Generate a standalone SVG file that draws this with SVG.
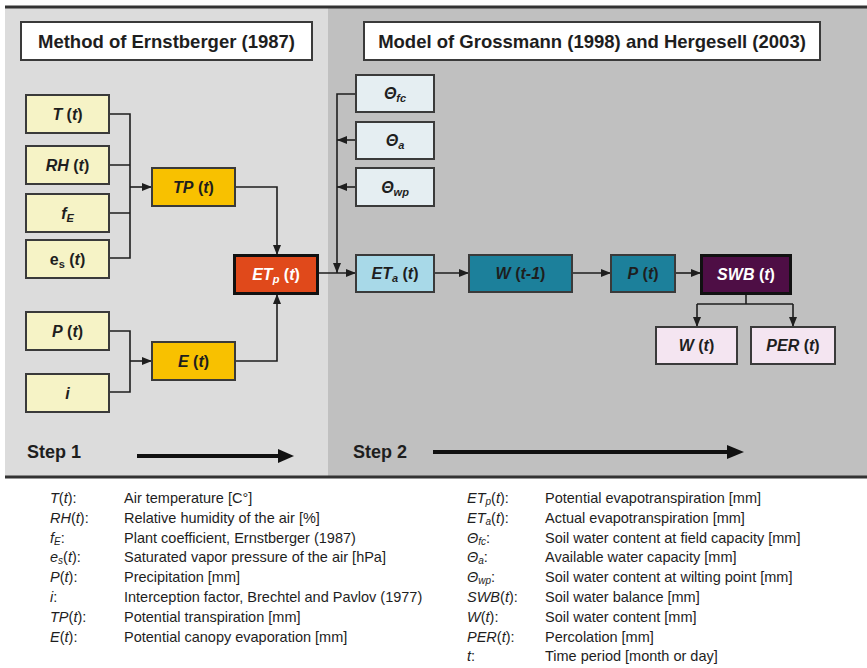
<svg xmlns="http://www.w3.org/2000/svg" width="867" height="668" viewBox="0 0 867 668">
  <style>
    text { font-family: "Liberation Sans", Arial, sans-serif; fill: #1e1e1e; }
    .hdr { font-size: 18.5px; font-weight: bold; text-anchor: middle; }
    .step { font-size: 18px; font-weight: bold; }
    .lbl { font-size: 16px; font-weight: bold; text-anchor: middle; }
    .it { font-style: italic; }
    .up { font-style: normal; }
    .w { fill: #ffffff; }
    .sub { font-size: 11px; }
    .box { stroke: #3a3a3a; stroke-width: 2; }
    .thick { stroke: #111111; stroke-width: 3; }
    .in { fill: #f6f3c6; }
    .gold { fill: #f8c100; }
    .red { fill: #e0491b; }
    .theta { fill: #e5eef2; }
    .lblue { fill: #a8d9e8; }
    .teal { fill: #1c809b; }
    .plum { fill: #4e0e45; }
    .pink { fill: #f4e5f1; }
    .wire { fill: none; stroke: #1e1e1e; stroke-width: 1.6; }
    .leg { font-size: 14.5px; }
  </style>
  <defs>
    <marker id="ah" markerUnits="userSpaceOnUse" markerWidth="10" markerHeight="8" refX="10" refY="4" orient="auto">
      <path d="M0,0 L10,4 L0,8 z" fill="#1e1e1e"/>
    </marker>
  </defs>

  <!-- background panels -->
  <rect x="0" y="0" width="867" height="668" fill="#ffffff"/>
  <rect x="5" y="7" width="323" height="470" fill="#dcdcdc"/>
  <rect x="328" y="7" width="539" height="470" fill="#c0c0c0"/>
  <line x1="5" y1="7" x2="867" y2="7" stroke="#333333" stroke-width="3"/>
  <line x1="5" y1="477" x2="867" y2="477" stroke="#333333" stroke-width="3"/>

  <!-- panel headers -->
  <g id="hdr-ernstberger">
    <rect x="21" y="22" width="291" height="38" fill="#ffffff" class="box"/>
    <text x="166.5" y="47.5" class="hdr">Method of Ernstberger (1987)</text>
  </g>
  <g id="hdr-grossmann">
    <rect x="364" y="22" width="456" height="38" fill="#ffffff" class="box"/>
    <text x="592" y="47.5" class="hdr">Model of Grossmann (1998) and Hergesell (2003)</text>
  </g>

  <!-- connectors -->
  <g id="connectors">
    <path class="wire" d="M109,114 H130 V258 H109 M109,165 H130 M109,213 H130"/>
    <path class="wire" marker-end="url(#ah)" d="M130,187 H152"/>
    <path class="wire" marker-end="url(#ah)" d="M235,187 H277 V255"/>
    <path class="wire" d="M109,331 H130 V392 H109"/>
    <path class="wire" marker-end="url(#ah)" d="M130,361 H152"/>
    <path class="wire" marker-end="url(#ah)" d="M235,361 H277 V294"/>
    <path class="wire" marker-end="url(#ah)" d="M318,273 H356"/>
    <path class="wire" marker-end="url(#ah)" d="M356,94 H337 V273"/>
    <path class="wire" marker-end="url(#ah)" d="M356,140 H337"/>
    <path class="wire" marker-end="url(#ah)" d="M356,187 H337"/>
    <path class="wire" marker-end="url(#ah)" d="M434,273 H469"/>
    <path class="wire" marker-end="url(#ah)" d="M572,273 H611"/>
    <path class="wire" marker-end="url(#ah)" d="M675,273 H701"/>
    <path class="wire" d="M746,294 V304 M697,304 H793"/>
    <path class="wire" marker-end="url(#ah)" d="M697,304 V327"/>
    <path class="wire" marker-end="url(#ah)" d="M793,304 V327"/>
  </g>

  <!-- step 1 inputs -->
  <g id="n-T">
    <rect x="26" y="95" width="83" height="38" class="box in"/>
    <text x="67.5" y="119.5" class="lbl"><tspan class="it">T</tspan> (<tspan class="it">t</tspan>)</text>
  </g>
  <g id="n-RH">
    <rect x="26" y="146" width="83" height="38" class="box in"/>
    <text x="67.5" y="170.5" class="lbl"><tspan class="it">RH</tspan> (<tspan class="it">t</tspan>)</text>
  </g>
  <g id="n-fE">
    <rect x="26" y="194" width="83" height="38" class="box in"/>
    <text x="67.5" y="218.5" class="lbl"><tspan class="it">f</tspan><tspan class="it sub" dy="3">E</tspan></text>
  </g>
  <g id="n-es">
    <rect x="26" y="240" width="83" height="38" class="box in"/>
    <text x="67.5" y="264.5" class="lbl">e<tspan class="sub" dy="3">s</tspan><tspan dy="-3"> (</tspan><tspan class="it">t</tspan>)</text>
  </g>
  <g id="n-P">
    <rect x="26" y="312" width="83" height="38" class="box in"/>
    <text x="67.5" y="336.5" class="lbl"><tspan class="it">P</tspan> (<tspan class="it">t</tspan>)</text>
  </g>
  <g id="n-i">
    <rect x="26" y="374" width="83" height="38" class="box in"/>
    <text x="67.5" y="398.5" class="lbl"><tspan class="it">i</tspan></text>
  </g>

  <!-- step 1 intermediates -->
  <g id="n-TP">
    <rect x="152" y="168" width="83" height="38" class="box gold"/>
    <text x="193.5" y="192.5" class="lbl"><tspan class="it">TP</tspan> (<tspan class="it">t</tspan>)</text>
  </g>
  <g id="n-E">
    <rect x="152" y="342" width="83" height="38" class="box gold"/>
    <text x="193.5" y="366.5" class="lbl"><tspan class="it">E</tspan> (<tspan class="it">t</tspan>)</text>
  </g>
  <g id="n-ETp">
    <rect x="234.5" y="255.5" width="83" height="38" class="thick red"/>
    <text x="276" y="280" class="lbl w"><tspan class="it w">ET</tspan><tspan class="it sub w" dy="3">p</tspan><tspan class="w" dy="-3"> (</tspan><tspan class="it w">t</tspan><tspan class="w">)</tspan></text>
  </g>

  <!-- soil parameters -->
  <g id="n-theta-fc">
    <rect x="356" y="75" width="78" height="37" class="box theta"/>
    <text x="395" y="99" class="lbl"><tspan class="it">Θ</tspan><tspan class="it sub" dy="3">fc</tspan></text>
  </g>
  <g id="n-theta-a">
    <rect x="356" y="122" width="78" height="37" class="box theta"/>
    <text x="395" y="146" class="lbl"><tspan class="it">Θ</tspan><tspan class="it sub" dy="3">a</tspan></text>
  </g>
  <g id="n-theta-wp">
    <rect x="356" y="168" width="78" height="38" class="box theta"/>
    <text x="395" y="192.5" class="lbl"><tspan class="it">Θ</tspan><tspan class="it sub" dy="3">wp</tspan></text>
  </g>

  <!-- step 2 chain -->
  <g id="n-ETa">
    <rect x="356" y="255" width="78" height="37" class="box lblue"/>
    <text x="395" y="279" class="lbl"><tspan class="it">ET</tspan><tspan class="it sub" dy="3">a</tspan><tspan dy="-3"> (</tspan><tspan class="it">t</tspan>)</text>
  </g>
  <g id="n-W-prev">
    <rect x="469" y="255" width="103" height="37" class="box teal"/>
    <text x="520.5" y="279" class="lbl"><tspan class="it">W</tspan> (<tspan class="it">t-1</tspan>)</text>
  </g>
  <g id="n-P2">
    <rect x="611" y="255" width="64" height="37" class="box teal"/>
    <text x="643" y="279" class="lbl"><tspan class="it">P</tspan> (<tspan class="it">t</tspan>)</text>
  </g>
  <g id="n-SWB">
    <rect x="701.5" y="255.5" width="89" height="38" class="thick plum"/>
    <text x="746" y="280" class="lbl w"><tspan class="it w">SWB</tspan><tspan class="w"> (</tspan><tspan class="it w">t</tspan><tspan class="w">)</tspan></text>
  </g>
  <g id="n-W">
    <rect x="656" y="327" width="81" height="37" class="box pink"/>
    <text x="696.5" y="351" class="lbl"><tspan class="it">W</tspan> (<tspan class="it">t</tspan>)</text>
  </g>
  <g id="n-PER">
    <rect x="751" y="327" width="84" height="37" class="box pink"/>
    <text x="793" y="351" class="lbl"><tspan class="it">PER</tspan> (<tspan class="it">t</tspan>)</text>
  </g>

  <!-- step markers -->
  <g id="step1">
    <text x="27" y="458" class="step">Step 1</text>
    <line x1="137" y1="456" x2="280" y2="456" stroke="#111111" stroke-width="4"/>
    <polygon points="278,449 294,456 278,463" fill="#111111"/>
  </g>
  <g id="step2">
    <text x="353" y="458" class="step">Step 2</text>
    <line x1="433" y1="452" x2="729" y2="452" stroke="#111111" stroke-width="4"/>
    <polygon points="727,445 744,452 727,459" fill="#111111"/>
  </g>

  <!-- legend, left column -->
  <g id="legend-left" class="leg">
    <text x="50" y="503"><tspan class="it">T</tspan>(<tspan class="it">t</tspan>):</text>
    <text x="124" y="503">Air temperature [C°]</text>
    <text x="50" y="522.8"><tspan class="it">RH</tspan>(<tspan class="it">t</tspan>):</text>
    <text x="124" y="522.8">Relative humidity of the air [%]</text>
    <text x="50" y="542.6"><tspan class="it">f</tspan><tspan class="it" font-size="10" dy="2">E</tspan><tspan dy="-2">:</tspan></text>
    <text x="124" y="542.6">Plant coefficient, Ernstberger (1987)</text>
    <text x="50" y="562.4"><tspan class="it">e</tspan><tspan class="it" font-size="10" dy="2">s</tspan><tspan dy="-2">(</tspan><tspan class="it">t</tspan>):</text>
    <text x="124" y="562.4">Saturated vapor pressure of the air [hPa]</text>
    <text x="50" y="582.2"><tspan class="it">P</tspan>(<tspan class="it">t</tspan>):</text>
    <text x="124" y="582.2">Precipitation [mm]</text>
    <text x="50" y="602"><tspan class="it">i</tspan>:</text>
    <text x="124" y="602">Interception factor, Brechtel and Pavlov (1977)</text>
    <text x="50" y="621.8"><tspan class="it">TP</tspan>(<tspan class="it">t</tspan>):</text>
    <text x="124" y="621.8">Potential transpiration [mm]</text>
    <text x="50" y="641.6"><tspan class="it">E</tspan>(<tspan class="it">t</tspan>):</text>
    <text x="124" y="641.6">Potential canopy evaporation [mm]</text>
  </g>

  <!-- legend, right column -->
  <g id="legend-right" class="leg">
    <text x="467" y="503"><tspan class="it">ET</tspan><tspan class="it" font-size="10" dy="2">p</tspan><tspan dy="-2">(</tspan><tspan class="it">t</tspan>):</text>
    <text x="545" y="503">Potential evapotranspiration [mm]</text>
    <text x="467" y="522.8"><tspan class="it">ET</tspan><tspan class="it" font-size="10" dy="2">a</tspan><tspan dy="-2">(</tspan><tspan class="it">t</tspan>):</text>
    <text x="545" y="522.8">Actual evapotranspiration [mm]</text>
    <text x="467" y="542.6"><tspan class="it">Θ</tspan><tspan class="it" font-size="10" dy="2">fc</tspan><tspan dy="-2">:</tspan></text>
    <text x="545" y="542.6">Soil water content at field capacity [mm]</text>
    <text x="467" y="562.4"><tspan class="it">Θ</tspan><tspan class="it" font-size="10" dy="2">a</tspan><tspan dy="-2">:</tspan></text>
    <text x="545" y="562.4">Available water capacity [mm]</text>
    <text x="467" y="582.2"><tspan class="it">Θ</tspan><tspan class="it" font-size="10" dy="2">wp</tspan><tspan dy="-2">:</tspan></text>
    <text x="545" y="582.2">Soil water content at wilting point [mm]</text>
    <text x="467" y="602"><tspan class="it">SWB</tspan>(<tspan class="it">t</tspan>):</text>
    <text x="545" y="602">Soil water balance [mm]</text>
    <text x="467" y="621.8"><tspan class="it">W</tspan>(<tspan class="it">t</tspan>):</text>
    <text x="545" y="621.8">Soil water content [mm]</text>
    <text x="467" y="641.6"><tspan class="it">PER</tspan>(<tspan class="it">t</tspan>):</text>
    <text x="545" y="641.6">Percolation [mm]</text>
    <text x="467" y="661.4"><tspan class="it">t</tspan>:</text>
    <text x="545" y="661.4">Time period [month or day]</text>
  </g>
</svg>
